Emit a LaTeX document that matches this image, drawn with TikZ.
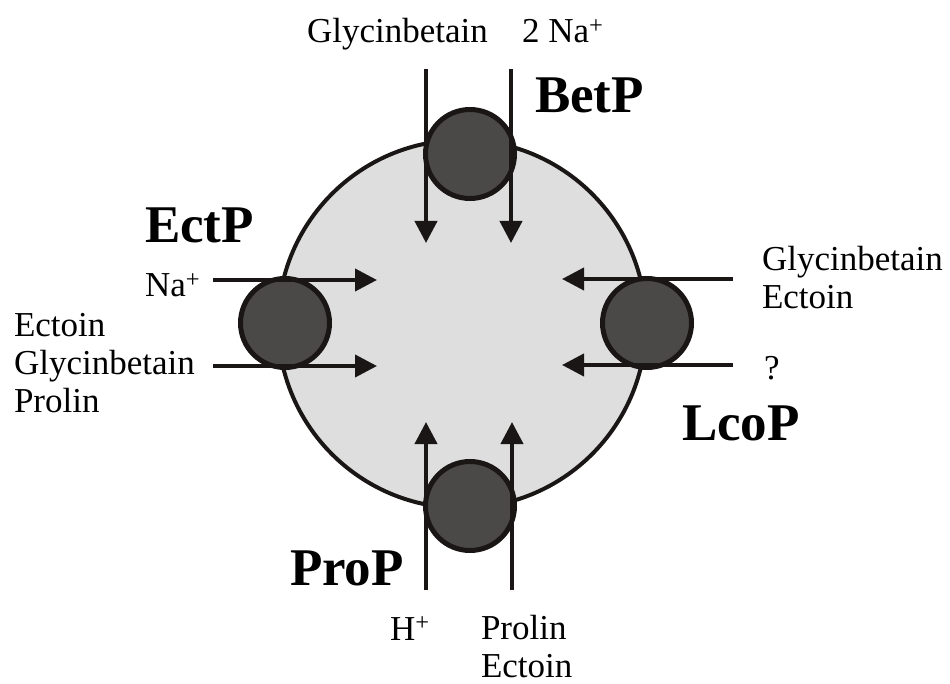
\documentclass[tikz,border=0pt]{standalone}
\usepackage{fontspec}
\setmainfont{Liberation Serif}
\usepackage{tikz}
\usetikzlibrary{arrows.meta}

\definecolor{cytoplasm}{HTML}{DEDEDE}
\definecolor{porterfill}{HTML}{4B4848}
\definecolor{inkline}{HTML}{1A1616}

\begin{document}
\begin{tikzpicture}[x=1pt,y=-1pt,->,>={Triangle[length=22pt,width=22pt]},line width=4pt,draw=inkline,
    cell node/.style={circle,draw=inkline,fill=cytoplasm,line width=4pt,minimum size=368pt,inner sep=0pt},
    porter node/.style={circle,draw=inkline,fill=porterfill,line width=5pt,minimum size=89pt,inner sep=0pt},
    name node/.style={font=\fontsize{53}{60}\selectfont\bfseries,inner sep=0pt,anchor=base west},
    sub node/.style={font=\fontsize{35}{38}\selectfont,inner sep=0pt,anchor=base west,align=left}]
    \useasboundingbox (0,0) rectangle (950,684);

    % cell and transporters
    \node[cell node] (cell) at (462,324) {};
    \node[porter node] (betp) at (470,154) {};
    \node[porter node] (ectp) at (285,323) {};
    \node[porter node] (lcop) at (647,323) {};
    \node[porter node] (prop) at (470,506) {};

    % names
    \node[name node] (betpname) at (533,113) {BetP};
    \node[name node] (ectpname) at (143,243) {EctP};
    \node[name node] (lcopname) at (680,440) {LcoP};
    \node[name node] (propname) at (288,585) {ProP};

    % substrates (base = last line)
    \node[sub node] (betsub1) at (305,43) {Glycinbetain};
    \node[sub node] (betsub2) at (520,43) {2 Na\textsuperscript{+}};
    \node[sub node] (ectsub1) at (143,297) {Na\textsuperscript{+}};
    \node[sub node] (ectsub2) at (12,412) {Ectoin\\Glycinbetain\\Prolin};
    \node[sub node] (lcosub1) at (760,309) {Glycinbetain\\Ectoin};
    \node[sub node] (lcosub2) at (762,379) {?};
    \node[sub node] (prosub1) at (388,640) {H\textsuperscript{+}};
    \node[sub node] (prosub2) at (479,677) {Prolin\\Ectoin};

    % arrow ends
    \coordinate (b1) at (426,69);  \coordinate (b1e) at (426,243);
    \coordinate (b2) at (511,69);  \coordinate (b2e) at (511,243);
    \coordinate (e1) at (213,280); \coordinate (e1e) at (377,280);
    \coordinate (e2) at (213,366); \coordinate (e2e) at (377,366);
    \coordinate (l1) at (733,279); \coordinate (l1e) at (562,279);
    \coordinate (l2) at (733,365); \coordinate (l2e) at (562,365);
    \coordinate (p1) at (426,590); \coordinate (p1e) at (426,422);
    \coordinate (p2) at (512,590); \coordinate (p2e) at (512,422);

    \path
    (b1) edge (b1e)
    (b2) edge (b2e)
    (e1) edge (e1e)
    (e2) edge (e2e)
    (l1) edge (l1e)
    (l2) edge (l2e)
    (p1) edge (p1e)
    (p2) edge (p2e);
\end{tikzpicture}
\end{document}
